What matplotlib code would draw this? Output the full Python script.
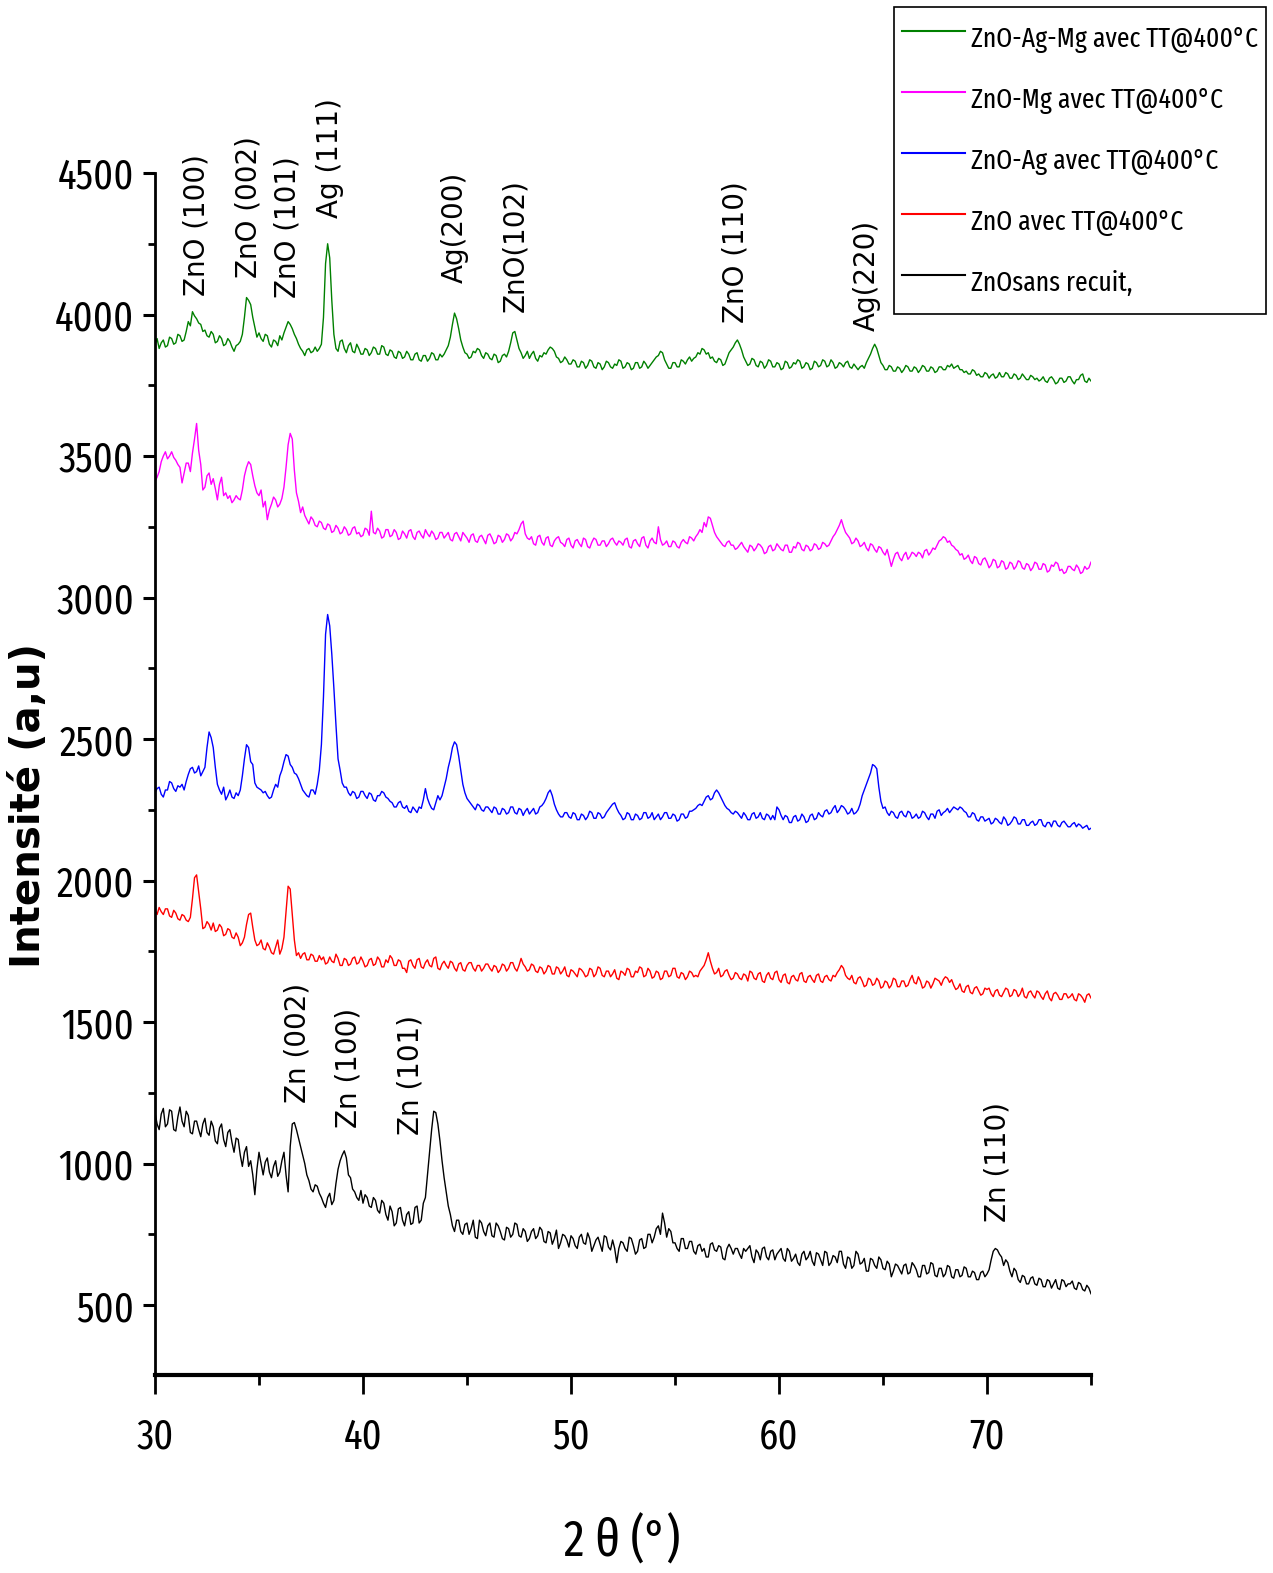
import numpy as np
import matplotlib
matplotlib.use("Agg")
import matplotlib.pyplot as plt
from matplotlib.ticker import MultipleLocator
from matplotlib import font_manager as fm
from matplotlib.font_manager import FontProperties

# 2 theta grid, 0.1 deg step, 30 -> 75 (451 points)
two_theta = np.linspace(30, 75, 451)

# intensities, one row = 2 degrees
zno_ag_mg = [
    3895, 3915, 3880, 3900, 3910, 3885, 3890, 3920, 3915, 3895, 3900, 3930, 3925, 3905, 3910, 3940, 3975, 3960, 4010, 3995,
    3985, 3970, 3965, 3940, 3945, 3925, 3920, 3940, 3930, 3900, 3905, 3925, 3915, 3890, 3895, 3915, 3905, 3885, 3870, 3890,
    3895, 3905, 3930, 3990, 4060, 4050, 4035, 3990, 3955, 3920, 3935, 3915, 3905, 3930, 3925, 3895, 3885, 3910, 3905, 3890,
    3925, 3910, 3935, 3955, 3975, 3965, 3950, 3930, 3915, 3895, 3880, 3870, 3855, 3875, 3880, 3865, 3870, 3885, 3870, 3880,
    3895, 3990, 4180, 4250, 4200, 4050, 3930, 3880, 3870, 3905, 3910, 3880, 3865, 3890, 3900, 3870, 3865, 3895, 3880, 3860,
    3860, 3880, 3875, 3855, 3865, 3885, 3880, 3860, 3860, 3890, 3885, 3860, 3855, 3875, 3870, 3850, 3845, 3870, 3865, 3845,
    3850, 3870, 3860, 3840, 3840, 3860, 3865, 3840, 3835, 3855, 3855, 3835, 3845, 3865, 3860, 3840, 3840, 3860, 3850, 3860,
    3875, 3890, 3920, 3965, 4005, 3985, 3950, 3910, 3885, 3865, 3860, 3845, 3850, 3870, 3865, 3880, 3875, 3855, 3845, 3865,
    3860, 3845, 3840, 3860, 3855, 3830, 3835, 3855, 3860, 3850, 3870, 3900, 3935, 3940, 3910, 3880, 3865, 3845, 3855, 3870,
    3845, 3860, 3870, 3845, 3835, 3855, 3850, 3865, 3860, 3875, 3885, 3880, 3870, 3850, 3845, 3830, 3835, 3850, 3840, 3825,
    3825, 3840, 3835, 3815, 3815, 3835, 3830, 3810, 3820, 3840, 3835, 3815, 3810, 3830, 3825, 3805, 3815, 3835, 3830, 3815,
    3810, 3825, 3820, 3840, 3835, 3810, 3815, 3830, 3825, 3805, 3810, 3830, 3830, 3810, 3815, 3835, 3825, 3810, 3820, 3830,
    3840, 3850, 3855, 3870, 3865, 3840, 3825, 3810, 3810, 3830, 3830, 3815, 3815, 3840, 3835, 3825, 3840, 3850, 3835, 3845,
    3850, 3865, 3860, 3880, 3875, 3860, 3865, 3845, 3850, 3835, 3830, 3845, 3840, 3820, 3825, 3845, 3865, 3875, 3885, 3900,
    3910, 3895, 3875, 3850, 3835, 3820, 3825, 3845, 3840, 3820, 3815, 3835, 3830, 3810, 3820, 3840, 3835, 3815, 3815, 3830,
    3825, 3805, 3810, 3835, 3830, 3810, 3815, 3830, 3825, 3840, 3835, 3810, 3815, 3830, 3825, 3805, 3810, 3835, 3830, 3815,
    3820, 3840, 3835, 3815, 3820, 3840, 3830, 3810, 3815, 3830, 3825, 3815, 3830, 3835, 3815, 3810, 3825, 3815, 3805, 3815,
    3820, 3810, 3830, 3845, 3860, 3880, 3895, 3880, 3855, 3830, 3820, 3805, 3805, 3820, 3815, 3800, 3800, 3815, 3810, 3795,
    3805, 3820, 3815, 3800, 3800, 3815, 3810, 3795, 3805, 3820, 3815, 3800, 3800, 3815, 3810, 3795, 3800, 3815, 3815, 3805,
    3805, 3820, 3815, 3825, 3810, 3815, 3820, 3805, 3805, 3795, 3800, 3790, 3790, 3805, 3800, 3785, 3790, 3780, 3780, 3795,
    3790, 3775, 3785, 3790, 3775, 3780, 3795, 3780, 3780, 3795, 3790, 3775, 3775, 3790, 3785, 3770, 3775, 3790, 3780, 3770,
    3770, 3785, 3780, 3770, 3775, 3765, 3770, 3780, 3765, 3760, 3775, 3780, 3770, 3755, 3760, 3775, 3775, 3760, 3765, 3780,
    3780, 3765, 3755, 3770, 3770, 3785, 3790, 3765, 3760, 3775, 3765,
]

zno_mg = [
    3410, 3425, 3445, 3480, 3500, 3515, 3490, 3500, 3515, 3495, 3485, 3470, 3460, 3405, 3440, 3475, 3475, 3445, 3510, 3560,
    3615, 3520, 3470, 3380, 3390, 3430, 3440, 3400, 3420, 3385, 3345, 3400, 3425, 3360, 3370, 3350, 3360, 3335, 3345, 3360,
    3350, 3345, 3380, 3430, 3460, 3480, 3470, 3430, 3395, 3370, 3360, 3380, 3320, 3340, 3275, 3310, 3330, 3355, 3345, 3320,
    3330, 3350, 3390, 3460, 3540, 3580, 3560, 3450, 3370, 3340, 3300, 3320, 3290, 3275, 3260, 3285, 3275, 3255, 3250, 3270,
    3265, 3245, 3240, 3260, 3255, 3230, 3235, 3255, 3245, 3225, 3230, 3250, 3240, 3220, 3225, 3245, 3250, 3225, 3230, 3215,
    3220, 3245, 3240, 3220, 3305, 3230, 3225, 3245, 3235, 3210, 3215, 3240, 3240, 3215, 3220, 3240, 3230, 3205, 3210, 3235,
    3225, 3210, 3235, 3240, 3215, 3205, 3230, 3235, 3220, 3210, 3240, 3225, 3215, 3235, 3225, 3205, 3210, 3230, 3230, 3210,
    3220, 3230, 3205, 3200, 3225, 3230, 3215, 3200, 3230, 3220, 3210, 3195, 3220, 3225, 3200, 3195, 3215, 3220, 3205, 3190,
    3220, 3225, 3210, 3190, 3195, 3220, 3215, 3195, 3205, 3225, 3220, 3200, 3210, 3230, 3225, 3240, 3260, 3270, 3225, 3210,
    3205, 3215, 3190, 3185, 3215, 3220, 3195, 3185, 3210, 3215, 3185, 3180, 3200, 3210, 3215, 3195, 3190, 3180, 3205, 3210,
    3185, 3175, 3200, 3205, 3190, 3180, 3210, 3205, 3180, 3175, 3195, 3210, 3205, 3185, 3185, 3200, 3200, 3180, 3190, 3205,
    3210, 3195, 3185, 3200, 3195, 3185, 3205, 3210, 3180, 3175, 3200, 3205, 3190, 3180, 3210, 3215, 3185, 3175, 3200, 3210,
    3195, 3190, 3250, 3205, 3185, 3190, 3200, 3180, 3180, 3200, 3195, 3180, 3175, 3195, 3205, 3195, 3190, 3215, 3210, 3200,
    3215, 3225, 3240, 3230, 3265, 3250, 3285, 3280, 3255, 3230, 3215, 3205, 3195, 3185, 3180, 3195, 3200, 3185, 3185, 3170,
    3175, 3185, 3195, 3180, 3170, 3160, 3185, 3180, 3165, 3175, 3190, 3185, 3175, 3155, 3160, 3180, 3185, 3165, 3170, 3190,
    3180, 3170, 3165, 3185, 3185, 3160, 3160, 3180, 3175, 3195, 3190, 3170, 3165, 3185, 3180, 3165, 3170, 3190, 3185, 3170,
    3175, 3195, 3190, 3180, 3185, 3200, 3215, 3225, 3240, 3255, 3275, 3250, 3230, 3220, 3210, 3190, 3195, 3210, 3200, 3180,
    3185, 3195, 3175, 3165, 3190, 3185, 3170, 3160, 3180, 3175, 3160, 3150, 3170, 3140, 3110, 3135, 3155, 3160, 3140, 3130,
    3150, 3160, 3135, 3145, 3160, 3155, 3145, 3160, 3155, 3140, 3165, 3170, 3150, 3160, 3175, 3170, 3185, 3200, 3205, 3215,
    3210, 3195, 3200, 3185, 3180, 3170, 3165, 3150, 3155, 3135, 3140, 3150, 3130, 3120, 3145, 3140, 3120, 3115, 3135, 3140,
    3125, 3105, 3115, 3135, 3130, 3105, 3110, 3130, 3125, 3100, 3105, 3125, 3120, 3100, 3110, 3130, 3125, 3105, 3100, 3120,
    3115, 3095, 3105, 3125, 3120, 3100, 3100, 3120, 3115, 3090, 3095, 3115, 3110, 3125, 3120, 3095, 3100, 3085, 3090, 3110,
    3110, 3100, 3095, 3115, 3105, 3085, 3090, 3110, 3100, 3105, 3125,
]

zno_ag = [
    2310, 2325, 2330, 2305, 2295, 2320, 2320, 2350, 2345, 2325, 2315, 2335, 2330, 2340, 2320, 2350, 2375, 2395, 2400, 2380,
    2385, 2405, 2370, 2385, 2400, 2470, 2525, 2505, 2470, 2400, 2340, 2320, 2305, 2330, 2285, 2300, 2320, 2295, 2290, 2310,
    2300, 2320, 2370, 2430, 2480, 2470, 2420, 2410, 2345, 2330, 2325, 2320, 2310, 2315, 2300, 2290, 2295, 2320, 2340, 2330,
    2370, 2390, 2420, 2445, 2440, 2410, 2400, 2380, 2375, 2360, 2340, 2320, 2310, 2300, 2295, 2320, 2320, 2305, 2340, 2390,
    2480, 2650, 2870, 2940, 2900, 2800, 2680, 2550, 2430, 2390, 2345, 2330, 2330, 2310, 2300, 2315, 2310, 2290, 2295, 2315,
    2315, 2300, 2290, 2310, 2305, 2285, 2280, 2300, 2300, 2315, 2310, 2295, 2290, 2280, 2275, 2260, 2260, 2275, 2280, 2260,
    2255, 2265, 2245, 2240, 2260, 2250, 2240, 2260, 2255, 2285, 2325, 2290, 2270, 2255, 2250, 2275, 2300, 2285, 2300, 2330,
    2360, 2400, 2430, 2470, 2490, 2480, 2440, 2390, 2340, 2310, 2290, 2280, 2270, 2260, 2250, 2270, 2265, 2250, 2245, 2260,
    2260, 2250, 2240, 2260, 2255, 2235, 2235, 2255, 2250, 2235, 2240, 2260, 2260, 2240, 2235, 2255, 2250, 2230, 2245, 2255,
    2235, 2245, 2255, 2235, 2240, 2260, 2265, 2275, 2290, 2310, 2320, 2300, 2270, 2250, 2235, 2225, 2225, 2240, 2240, 2225,
    2220, 2240, 2235, 2215, 2215, 2235, 2230, 2215, 2225, 2245, 2240, 2220, 2220, 2240, 2235, 2220, 2225, 2240, 2250, 2260,
    2270, 2275, 2255, 2240, 2230, 2215, 2220, 2240, 2235, 2215, 2215, 2235, 2230, 2215, 2220, 2240, 2240, 2220, 2225, 2240,
    2215, 2225, 2235, 2215, 2225, 2240, 2240, 2220, 2220, 2235, 2230, 2210, 2215, 2235, 2235, 2220, 2225, 2245, 2245, 2250,
    2255, 2265, 2270, 2265, 2280, 2295, 2300, 2285, 2290, 2310, 2320, 2310, 2295, 2280, 2265, 2255, 2250, 2240, 2235, 2245,
    2240, 2230, 2220, 2240, 2230, 2215, 2215, 2235, 2240, 2220, 2225, 2240, 2220, 2215, 2235, 2230, 2215, 2230, 2215, 2260,
    2250, 2230, 2215, 2230, 2225, 2205, 2205, 2225, 2230, 2210, 2215, 2235, 2225, 2205, 2210, 2230, 2235, 2215, 2220, 2240,
    2230, 2225, 2245, 2250, 2235, 2240, 2255, 2265, 2240, 2250, 2265, 2260, 2250, 2235, 2240, 2255, 2235, 2240, 2250, 2270,
    2300, 2320, 2340, 2360, 2380, 2410, 2405, 2395, 2330, 2280, 2255, 2260, 2240, 2230, 2245, 2240, 2225, 2220, 2240, 2245,
    2230, 2225, 2245, 2240, 2220, 2225, 2235, 2220, 2225, 2245, 2240, 2225, 2215, 2235, 2235, 2220, 2245, 2250, 2230, 2240,
    2245, 2255, 2240, 2250, 2260, 2255, 2250, 2260, 2255, 2245, 2240, 2225, 2225, 2240, 2235, 2215, 2210, 2225, 2225, 2210,
    2215, 2220, 2200, 2205, 2220, 2215, 2205, 2200, 2225, 2215, 2195, 2200, 2210, 2225, 2220, 2200, 2200, 2215, 2215, 2195,
    2195, 2205, 2210, 2195, 2200, 2215, 2215, 2195, 2190, 2205, 2205, 2190, 2210, 2210, 2195, 2190, 2205, 2210, 2200, 2190,
    2190, 2200, 2205, 2190, 2200, 2195, 2185, 2190, 2195, 2180, 2185,
]

zno_tt = [
    1895, 1880, 1905, 1890, 1880, 1900, 1900, 1875, 1870, 1895, 1885, 1865, 1860, 1880, 1875, 1860, 1855, 1870, 1935, 2010,
    2020, 1960, 1900, 1830, 1835, 1855, 1845, 1825, 1850, 1820, 1825, 1845, 1835, 1805, 1810, 1830, 1825, 1800, 1795, 1815,
    1800, 1770, 1780, 1800, 1845, 1880, 1885, 1835, 1790, 1770, 1775, 1790, 1760, 1755, 1780, 1765, 1745, 1740, 1765, 1790,
    1740, 1760, 1800, 1890, 1980, 1970, 1880, 1790, 1735, 1745, 1725, 1740, 1745, 1720, 1720, 1740, 1735, 1715, 1715, 1735,
    1720, 1730, 1705, 1710, 1730, 1715, 1710, 1740, 1725, 1700, 1700, 1725, 1720, 1700, 1705, 1725, 1730, 1705, 1710, 1730,
    1715, 1695, 1700, 1720, 1725, 1700, 1705, 1730, 1720, 1695, 1695, 1720, 1710, 1735, 1725, 1700, 1700, 1720, 1715, 1690,
    1690, 1675, 1715, 1720, 1700, 1690, 1720, 1725, 1695, 1690, 1710, 1720, 1700, 1695, 1725, 1730, 1690, 1685, 1705, 1715,
    1700, 1690, 1715, 1710, 1690, 1680, 1705, 1710, 1685, 1680, 1700, 1710, 1710, 1690, 1680, 1700, 1700, 1680, 1690, 1705,
    1705, 1690, 1680, 1700, 1695, 1675, 1685, 1705, 1700, 1680, 1690, 1710, 1710, 1690, 1680, 1700, 1725, 1705, 1695, 1680,
    1685, 1705, 1700, 1680, 1675, 1695, 1690, 1670, 1680, 1700, 1695, 1670, 1670, 1695, 1690, 1670, 1680, 1695, 1665, 1660,
    1685, 1680, 1670, 1660, 1690, 1685, 1675, 1660, 1665, 1690, 1685, 1660, 1670, 1695, 1690, 1665, 1660, 1680, 1680, 1660,
    1670, 1685, 1655, 1650, 1680, 1675, 1665, 1690, 1685, 1660, 1660, 1680, 1675, 1695, 1690, 1660, 1665, 1690, 1680, 1655,
    1660, 1680, 1675, 1650, 1655, 1680, 1680, 1660, 1665, 1690, 1690, 1660, 1655, 1675, 1670, 1650, 1660, 1680, 1675, 1660,
    1665, 1660, 1680, 1690, 1700, 1720, 1745, 1715, 1690, 1670, 1675, 1690, 1660, 1665, 1680, 1685, 1665, 1650, 1655, 1675,
    1670, 1655, 1650, 1670, 1665, 1645, 1680, 1675, 1655, 1650, 1670, 1675, 1645, 1640, 1665, 1675, 1655, 1650, 1675, 1680,
    1650, 1640, 1665, 1670, 1640, 1635, 1660, 1665, 1650, 1645, 1670, 1675, 1645, 1640, 1660, 1665, 1650, 1640, 1665, 1670,
    1645, 1640, 1660, 1665, 1650, 1645, 1665, 1660, 1675, 1685, 1700, 1690, 1665, 1655, 1650, 1665, 1640, 1635, 1655, 1660,
    1645, 1625, 1630, 1655, 1650, 1630, 1635, 1655, 1645, 1620, 1625, 1645, 1640, 1620, 1630, 1655, 1650, 1625, 1625, 1645,
    1645, 1625, 1630, 1650, 1665, 1640, 1635, 1660, 1645, 1620, 1625, 1645, 1640, 1620, 1635, 1655, 1650, 1645, 1630, 1650,
    1660, 1655, 1640, 1650, 1630, 1615, 1620, 1635, 1610, 1605, 1625, 1630, 1605, 1600, 1620, 1625, 1610, 1595, 1600, 1620,
    1615, 1620, 1600, 1590, 1610, 1615, 1595, 1590, 1605, 1620, 1615, 1590, 1595, 1615, 1610, 1590, 1600, 1620, 1590, 1585,
    1605, 1610, 1595, 1585, 1610, 1605, 1590, 1580, 1600, 1610, 1585, 1575, 1600, 1605, 1595, 1580, 1580, 1600, 1600, 1585,
    1590, 1600, 1580, 1575, 1600, 1595, 1585, 1570, 1595, 1600, 1585,
]

zno_raw = [
    1180, 1140, 1120, 1175, 1195, 1130, 1140, 1190, 1185, 1120, 1115, 1165, 1200, 1150, 1130, 1185, 1170, 1110, 1105, 1150,
    1150, 1120, 1095, 1140, 1160, 1110, 1100, 1150, 1130, 1080, 1070, 1125, 1140, 1085, 1060, 1110, 1120, 1075, 1040, 1090,
    1085, 1030, 990, 1040, 1060, 990, 1010, 960, 890, 980, 1040, 1000, 960, 1005, 1020, 970, 950, 990, 1010, 955,
    970, 1010, 1040, 960, 900, 1060, 1140, 1145, 1120, 1090, 1060, 1030, 1000, 960, 940, 910, 900, 925, 920, 895,
    880, 860, 845, 880, 895, 855, 870, 930, 980, 1010, 1030, 1045, 1020, 960, 950, 910, 900, 880, 870, 905,
    860, 890, 880, 850, 845, 880, 870, 835, 825, 870, 860, 820, 800, 850, 830, 780, 790, 840, 845, 800,
    780, 820, 830, 785, 790, 845, 850, 790, 800, 860, 880, 960, 1040, 1120, 1185, 1180, 1140, 1080, 1010, 950,
    900, 850, 820, 780, 760, 800, 800, 760, 750, 785, 790, 750, 770, 800, 740, 735, 800, 790, 760, 745,
    780, 790, 745, 740, 790, 780, 760, 735, 730, 775, 770, 740, 750, 790, 785, 745, 740, 770, 760, 725,
    735, 760, 770, 735, 745, 775, 765, 725, 720, 760, 755, 715, 735, 765, 700, 720, 750, 745, 730, 705,
    745, 735, 710, 700, 740, 750, 720, 715, 755, 735, 690, 710, 730, 740, 715, 690, 745, 740, 705, 695,
    730, 700, 650, 700, 725, 720, 700, 690, 740, 735, 710, 680, 690, 730, 735, 700, 705, 750, 750, 720,
    740, 770, 780, 750, 825, 790, 740, 770, 760, 720, 720, 700, 690, 735, 735, 700, 700, 725, 725, 690,
    680, 710, 715, 690, 700, 670, 670, 715, 720, 695, 690, 710, 705, 665, 660, 700, 715, 700, 680, 700,
    700, 680, 665, 700, 690, 700, 710, 670, 650, 695, 685, 660, 700, 705, 670, 660, 690, 695, 660, 680,
    690, 700, 665, 655, 700, 690, 655, 665, 680, 650, 640, 680, 690, 660, 670, 690, 655, 640, 685, 680,
    660, 640, 690, 685, 640, 650, 675, 670, 650, 690, 690, 645, 630, 670, 665, 630, 640, 690, 680, 645,
    650, 665, 620, 620, 665, 660, 640, 630, 670, 660, 630, 625, 655, 645, 600, 620, 645, 640, 625, 610,
    640, 645, 610, 615, 650, 640, 625, 600, 600, 640, 640, 610, 615, 650, 645, 605, 600, 630, 630, 600,
    610, 640, 635, 600, 595, 625, 625, 600, 605, 635, 630, 600, 600, 620, 615, 590, 590, 615, 620, 600,
    610, 625, 660, 690, 700, 695, 680, 670, 640, 660, 650, 620, 600, 630, 620, 590, 580, 605, 600, 575,
    575, 595, 600, 575, 570, 595, 590, 565, 565, 590, 585, 560, 575, 590, 560, 555, 590, 585, 565, 575,
    575, 585, 560, 555, 580, 575, 555, 550, 570, 560, 540,
]

series_labels = ["ZnO-Ag-Mg avec TT@400°C", "ZnO-Mg avec TT@400°C",
                 "ZnO-Ag avec TT@400°C", "ZnO avec TT@400°C", "ZnOsans recuit,"]
series_colors = ["#008000", "#FF00FF", "#0000FF", "#FF0000", "#000000"]

# peak labels: text, 2theta, intensity where the label starts
peak_names = ["ZnO (100)", "ZnO (002)", "ZnO (101)", "Ag (111)", "Ag(200)", "ZnO(102)",
              "ZnO (110)", "Ag(220)", "Zn (002)", "Zn (100)", "Zn (101)", "Zn (110)"]
peak_pos = [32.0, 34.5, 36.35, 38.4, 44.4, 47.3, 57.9, 64.2, 36.85, 39.3, 42.3, 70.5]
peak_height = [4065, 4130, 4060, 4340, 4110, 4010, 3970, 3940, 1215, 1125, 1100, 795]

# tall, narrow face for the tick labels and legend (first one installed)
installed = {f.name for f in fm.fontManager.ttflist}
narrow_family = "DejaVu Sans"
for fam in ["Fira Sans Extra Condensed", "Sofia Sans Extra Condensed", "Barlow Condensed",
            "Archivo Narrow", "PT Sans Narrow", "Roboto Condensed"]:
    if fam in installed:
        narrow_family = fam
        break


def narrow(size):
    return FontProperties(family=narrow_family, size=size)


W, H = 1273, 1573
fig = plt.figure(figsize=(W / 100, H / 100), dpi=100)
ax = fig.add_axes([155 / W, 1 - 1375 / H, (1091 - 155) / W, (1375 - 173) / H])

series = [zno_ag_mg, zno_mg, zno_ag, zno_tt, zno_raw]
handles = []
for vals, lab, col in zip(series, series_labels, series_colors):
    h, = ax.plot(two_theta, vals, color=col, lw=1.0, label=lab)
    handles.append(h)

ax.set_xlim(30, 75)
ax.set_ylim(253, 4500)
ax.spines["top"].set_visible(False)
ax.spines["right"].set_visible(False)
ax.spines["left"].set_linewidth(2)
ax.spines["bottom"].set_linewidth(3)

ax.xaxis.set_major_locator(MultipleLocator(10))
ax.xaxis.set_minor_locator(MultipleLocator(5))
ax.yaxis.set_major_locator(MultipleLocator(500))
ax.yaxis.set_minor_locator(MultipleLocator(250))
ax.tick_params(axis="x", which="major", direction="out", length=14, width=2, pad=16)
ax.tick_params(axis="x", which="minor", direction="out", length=7, width=2)
ax.tick_params(axis="y", which="major", direction="out", length=9, width=2.2, pad=6)
ax.tick_params(axis="y", which="minor", direction="out", length=5, width=2)
for t in ax.get_xticklabels() + ax.get_yticklabels():
    t.set_fontproperties(narrow(30))

for name, x, y in zip(peak_names, peak_pos, peak_height):
    ax.text(x, y, name, rotation=90, ha="center", va="bottom",
            fontsize=20, family="DejaVu Sans")

fig.text(622 / W, 1 - 1542 / H, "2 θ (°)", ha="center", va="center",
         fontproperties=narrow(37))
fig.text(29 / W, 1 - 805 / H, "Intensité (a,u)", rotation=90, ha="center",
         va="center", fontsize=29, weight="bold", family="DejaVu Sans")

leg = fig.legend(handles, series_labels, loc="upper right",
                 bbox_to_anchor=(1266 / W, 1 - 7 / H), borderaxespad=0,
                 frameon=True, fancybox=False, edgecolor="black", framealpha=1,
                 prop=narrow(20), handlelength=2.27, handletextpad=0.2,
                 handleheight=2.2, labelspacing=0.52, borderpad=0.3)
leg.get_frame().set_linewidth(1.2)
for line in leg.get_lines():
    line.set_linewidth(1.5)

fig.savefig("out.png", dpi=100)
